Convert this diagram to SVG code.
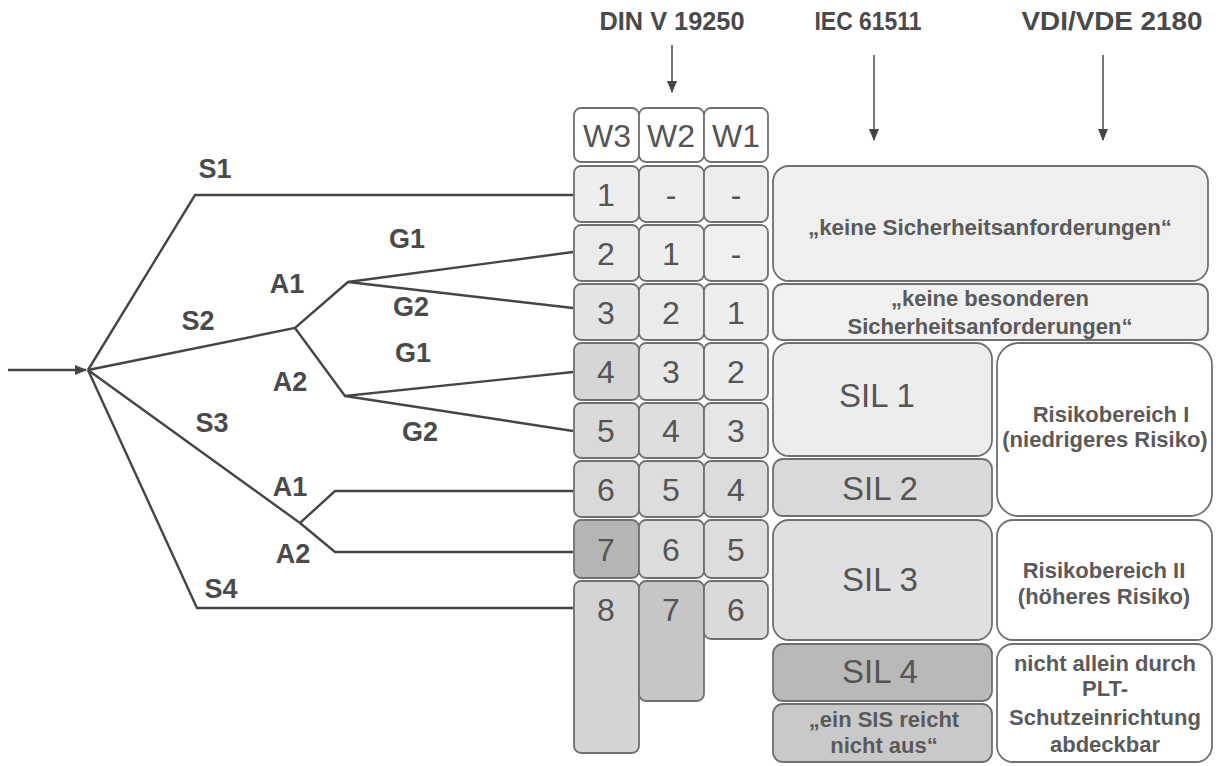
<svg xmlns="http://www.w3.org/2000/svg" width="1218" height="766" viewBox="0 0 1218 766">
<defs>
<style>
.bg{fill:#ffffff}
.cell{stroke:#707070;stroke-width:1.8}
.num{font-family:"Liberation Sans",Arial,sans-serif;font-size:32px;fill:#555;text-anchor:middle}
.hd{font-family:"Liberation Sans",Arial,sans-serif;font-size:26px;font-weight:bold;fill:#4a4a4a;text-anchor:middle}
.lbl{font-family:"Liberation Sans",Arial,sans-serif;font-size:27px;font-weight:bold;fill:#4a4a4a;text-anchor:middle}
.bx{font-family:"Liberation Sans",Arial,sans-serif;font-size:22px;font-weight:bold;fill:#5a5a5a;text-anchor:middle}
.sil{font-family:"Liberation Sans",Arial,sans-serif;font-size:33px;fill:#555;text-anchor:middle}
.ln{fill:none;stroke:#454545;stroke-width:2.4}
.ar{fill:none;stroke:#555;stroke-width:1.6}
</style>
<marker id="ah" markerWidth="12" markerHeight="12" refX="11" refY="6" orient="auto" markerUnits="userSpaceOnUse">
<path d="M0,1 L12,6 L0,11 Z" fill="#454545"/>
</marker>
</defs>
<rect class="bg" x="0" y="0" width="1218" height="766"/>

<g id="headers">
<text class="hd" x="672" y="30" textLength="145" lengthAdjust="spacingAndGlyphs">DIN V 19250</text>
<text class="hd" x="868" y="30" textLength="107" lengthAdjust="spacingAndGlyphs">IEC 61511</text>
<text class="hd" x="1112" y="30" textLength="181" lengthAdjust="spacingAndGlyphs">VDI/VDE 2180</text>
</g>

<g id="connectors">
<line class="ar" x1="672" y1="45" x2="672" y2="92" marker-end="url(#ah)"/>
<line class="ar" x1="874" y1="55" x2="874" y2="140" marker-end="url(#ah)"/>
<line class="ar" x1="1103" y1="55" x2="1103" y2="140" marker-end="url(#ah)"/>
<line class="ln" x1="8" y1="370" x2="86" y2="370" marker-end="url(#ah)"/>
<polyline class="ln" points="88,370 195,195 573,195"/>
<polyline class="ln" points="88,370 295,328 348,282 573,252"/>
<polyline class="ln" points="348,282 573,308"/>
<polyline class="ln" points="295,328 345,396 573,372"/>
<polyline class="ln" points="345,396 573,431"/>
<polyline class="ln" points="88,370 300,523 335,491 573,491"/>
<polyline class="ln" points="300,523 335,552 573,552"/>
<polyline class="ln" points="88,370 197,608 573,608"/>
</g>

<g id="tree-labels">
<text class="lbl" x="215" y="178">S1</text>
<text class="lbl" x="198" y="330">S2</text>
<text class="lbl" x="212" y="432">S3</text>
<text class="lbl" x="221" y="598">S4</text>
<text class="lbl" x="287" y="293">A1</text>
<text class="lbl" x="290" y="391">A2</text>
<text class="lbl" x="290" y="496">A1</text>
<text class="lbl" x="293" y="563">A2</text>
<text class="lbl" x="407" y="248">G1</text>
<text class="lbl" x="411" y="316">G2</text>
<text class="lbl" x="413" y="362">G1</text>
<text class="lbl" x="420" y="441">G2</text>
</g>

<g id="grid-header">
<rect class="cell" x="574" y="108" width="65" height="54" rx="7" fill="#ffffff"/>
<rect class="cell" x="639" y="108" width="65" height="54" rx="7" fill="#ffffff"/>
<rect class="cell" x="704" y="108" width="64" height="54" rx="7" fill="#ffffff"/>
<text class="num" x="607" y="147">W3</text>
<text class="num" x="671" y="147">W2</text>
<text class="num" x="736" y="147">W1</text>
</g>

<g id="col-W3">
<rect class="cell" x="574" y="166" width="65" height="56" rx="7" fill="#eeeeee"/>
<rect class="cell" x="574" y="225" width="65" height="56" rx="7" fill="#ebebeb"/>
<rect class="cell" x="574" y="284" width="65" height="56" rx="7" fill="#e4e4e4"/>
<rect class="cell" x="574" y="343" width="65" height="57" rx="7" fill="#d6d6d6"/>
<rect class="cell" x="574" y="403" width="65" height="55" rx="7" fill="#d9d9d9"/>
<rect class="cell" x="574" y="461" width="65" height="56" rx="7" fill="#d9d9d9"/>
<rect class="cell" x="574" y="520" width="65" height="58" rx="7" fill="#b5b5b5"/>
<rect class="cell" x="574" y="581" width="65" height="172" rx="7" fill="#d4d4d4"/>
<text class="num" x="606" y="206">1</text>
<text class="num" x="606" y="265">2</text>
<text class="num" x="606" y="324">3</text>
<text class="num" x="606" y="383">4</text>
<text class="num" x="606" y="442">5</text>
<text class="num" x="606" y="501">6</text>
<text class="num" x="606" y="561">7</text>
<text class="num" x="606" y="621">8</text>
</g>

<g id="col-W2">
<rect class="cell" x="639" y="166" width="65" height="56" rx="7" fill="#eeeeee"/>
<rect class="cell" x="639" y="225" width="65" height="56" rx="7" fill="#eeeeee"/>
<rect class="cell" x="639" y="284" width="65" height="56" rx="7" fill="#ebebeb"/>
<rect class="cell" x="639" y="343" width="65" height="57" rx="7" fill="#e8e8e8"/>
<rect class="cell" x="639" y="403" width="65" height="55" rx="7" fill="#dedede"/>
<rect class="cell" x="639" y="461" width="65" height="56" rx="7" fill="#dddddd"/>
<rect class="cell" x="639" y="520" width="65" height="58" rx="7" fill="#dcdcdc"/>
<rect class="cell" x="639" y="581" width="65" height="120" rx="7" fill="#c6c6c6"/>
<text class="num" x="671" y="206">-</text>
<text class="num" x="671" y="265">1</text>
<text class="num" x="671" y="324">2</text>
<text class="num" x="671" y="383">3</text>
<text class="num" x="671" y="442">4</text>
<text class="num" x="671" y="501">5</text>
<text class="num" x="671" y="561">6</text>
<text class="num" x="671" y="621">7</text>
</g>

<g id="col-W1">
<rect class="cell" x="704" y="166" width="64" height="56" rx="7" fill="#eeeeee"/>
<rect class="cell" x="704" y="225" width="64" height="56" rx="7" fill="#f0f0f0"/>
<rect class="cell" x="704" y="284" width="64" height="56" rx="7" fill="#eeeeee"/>
<rect class="cell" x="704" y="343" width="64" height="57" rx="7" fill="#ececec"/>
<rect class="cell" x="704" y="403" width="64" height="55" rx="7" fill="#e6e6e6"/>
<rect class="cell" x="704" y="461" width="64" height="56" rx="7" fill="#dcdcdc"/>
<rect class="cell" x="704" y="520" width="64" height="58" rx="7" fill="#dddddd"/>
<rect class="cell" x="704" y="581" width="64" height="58" rx="7" fill="#dadada"/>
<text class="num" x="736" y="206">-</text>
<text class="num" x="736" y="265">-</text>
<text class="num" x="736" y="324">1</text>
<text class="num" x="736" y="383">2</text>
<text class="num" x="736" y="442">3</text>
<text class="num" x="736" y="501">4</text>
<text class="num" x="736" y="561">5</text>
<text class="num" x="736" y="621">6</text>
</g>

<g id="keine-sicherheitsanforderungen">
<rect class="cell" x="773" y="166" width="435" height="115" rx="16" fill="#efefef"/>
<text class="bx" x="990" y="235" textLength="364" lengthAdjust="spacingAndGlyphs">„keine Sicherheitsanforderungen“</text>
</g>
<g id="keine-besonderen">
<rect class="cell" x="773" y="284" width="435" height="56" rx="10" fill="#f1f1f1"/>
<text class="bx" x="990" y="306">„keine besonderen</text>
<text class="bx" x="990" y="334">Sicherheitsanforderungen“</text>
</g>
<g id="sil1">
<rect class="cell" x="773" y="343" width="219" height="113" rx="16" fill="#ededed"/>
<text class="sil" x="877" y="407">SIL 1</text>
</g>
<g id="sil2">
<rect class="cell" x="773" y="459" width="219" height="57" rx="10" fill="#d9d9d9"/>
<text class="sil" x="880" y="500">SIL 2</text>
</g>
<g id="risiko1">
<rect class="cell" x="997" y="343" width="215" height="173" rx="22" fill="#ffffff"/>
<text class="bx" x="1111" y="422">Risikobereich I</text>
<text class="bx" x="1105" y="447">(niedrigeres Risiko)</text>
</g>
<g id="sil3">
<rect class="cell" x="773" y="520" width="219" height="120" rx="16" fill="#e0e0e0"/>
<text class="sil" x="880" y="591">SIL 3</text>
</g>
<g id="risiko2">
<rect class="cell" x="997" y="520" width="215" height="120" rx="16" fill="#ffffff"/>
<text class="bx" x="1104" y="578">Risikobereich II</text>
<text class="bx" x="1104" y="604">(höheres Risiko)</text>
</g>
<g id="sil4">
<rect class="cell" x="773" y="644" width="219" height="57" rx="10" fill="#b9b9b9"/>
<text class="sil" x="880" y="683">SIL 4</text>
</g>
<g id="sis">
<rect class="cell" x="773" y="704" width="219" height="58" rx="10" fill="#c9c9c9"/>
<text class="bx" x="884" y="727">„ein SIS reicht</text>
<text class="bx" x="884" y="753">nicht aus“</text>
</g>
<g id="nicht-allein">
<rect class="cell" x="997" y="644" width="215" height="118" rx="16" fill="#ffffff"/>
<text class="bx" x="1105" y="671">nicht allein durch</text>
<text class="bx" x="1105" y="696">PLT-</text>
<text class="bx" x="1105" y="725">Schutzeinrichtung</text>
<text class="bx" x="1105" y="752">abdeckbar</text>
</g>
</svg>
